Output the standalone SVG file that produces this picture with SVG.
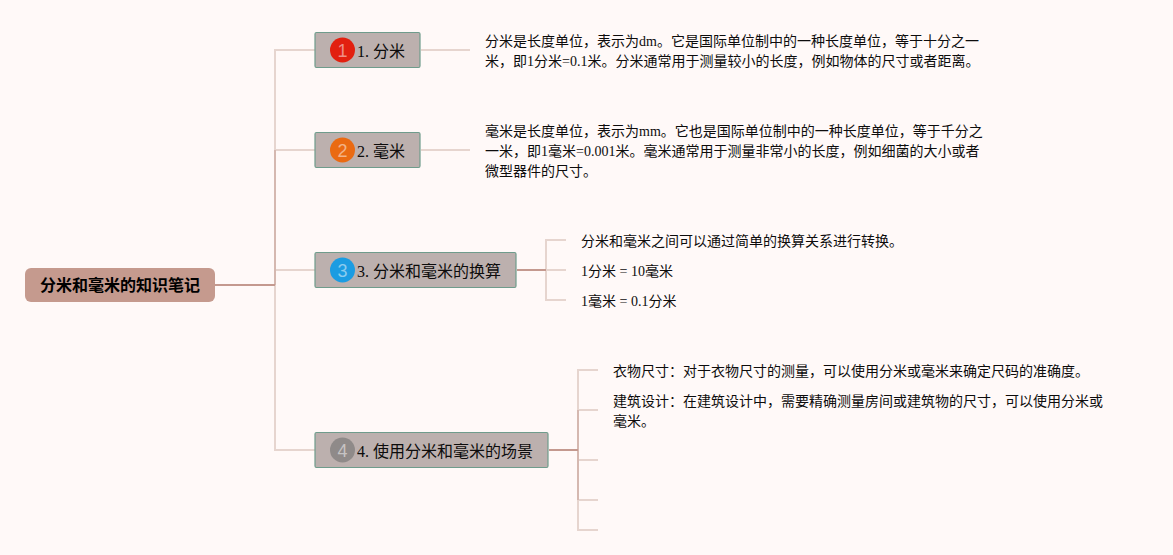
<svg xmlns="http://www.w3.org/2000/svg" width="1173" height="555" viewBox="0 0 1173 555">
<defs>
<style>
text{font-family:"Liberation Serif","Noto Sans CJK SC",serif;fill:#0d0c0c;opacity:.995}
.d{font-size:14px}
.t{font-size:16px}
.r{font-size:16px;font-weight:bold;font-family:"Liberation Sans","Noto Sans CJK SC",sans-serif;fill:#000}
.b{fill:#bcb0ae;stroke:#6f9c8c;stroke-width:1.2}
.n{font-family:"Liberation Sans",sans-serif;font-size:18px;text-anchor:middle;fill-opacity:.5;fill:#fff}
.l{fill:none;stroke:#e6d5cf;stroke-width:2}
.m{fill:none;stroke:#d5b8b0;stroke-width:2}
.k{fill:none;stroke:#c4998f;stroke-width:2}
</style>
</defs>
<rect width="1173" height="555" fill="#fff9f8"/>
<g id="connectors">
<path class="l" d="M315 50H275V150M275 150H315M275 270H315M315 450H275V285"/>
<path class="m" d="M275 150V285"/>
<path class="k" d="M215 285H275"/>
<path class="l" d="M421 50H470M421 150H470"/>
<path class="l" d="M566 240H546V300H566M546 270H566"/>
<path class="k" d="M517 270H546"/>
<path class="l" d="M598 370H578V530H598M578 410H598M578 460H598M578 500H598"/>
<path class="m" d="M578 410V500"/>
<path class="k" d="M549 450H578"/>
</g>
<g id="root"><rect x="25" y="268" width="190" height="34" rx="6" fill="#c59a8e"/><text class="r" x="40" y="291">分米和毫米的知识笔记</text></g>
<g id="topic1"><rect class="b" x="315" y="32.500" width="105" height="35" rx="1.500"/><circle cx="342.500" cy="50" r="12.500" fill="#e2200f"/><text class="n" x="342.500" y="56.500">1</text><text class="t" x="357" y="57">1. 分米</text></g>
<g id="topic2"><rect class="b" x="315" y="132.500" width="105" height="35" rx="1.500"/><circle cx="342.500" cy="150" r="12.500" fill="#ea6a12"/><text class="n" x="342.500" y="156.500">2</text><text class="t" x="357" y="157">2. 毫米</text></g>
<g id="topic3"><rect class="b" x="315" y="252.500" width="201" height="35" rx="1.500"/><circle cx="342.500" cy="270" r="12.500" fill="#1b9ce2"/><text class="n" x="342.500" y="276.500">3</text><text class="t" x="357" y="277">3. 分米和毫米的换算</text></g>
<g id="topic4"><rect class="b" x="315" y="432.500" width="233" height="35" rx="1.500"/><circle cx="342.500" cy="450" r="12.500" fill="#8f8a89"/><text class="n" x="342.500" y="456.500">4</text><text class="t" x="357" y="457">4. 使用分米和毫米的场景</text></g>
<g id="detail1"><text class="d" x="485" y="46">分米是长度单位，表示为dm。它是国际单位制中的一种长度单位，等于十分之一</text><text class="d" x="485" y="66">米，即1分米=0.1米。分米通常用于测量较小的长度，例如物体的尺寸或者距离。</text></g>
<g id="detail2"><text class="d" x="485" y="136">毫米是长度单位，表示为mm。它也是国际单位制中的一种长度单位，等于千分之</text><text class="d" x="485" y="156">一米，即1毫米=0.001米。毫米通常用于测量非常小的长度，例如细菌的大小或者</text><text class="d" x="485" y="176">微型器件的尺寸。</text></g>
<g id="detail3a"><text class="d" x="581" y="246">分米和毫米之间可以通过简单的换算关系进行转换。</text></g>
<g id="detail3b"><text class="d" x="581" y="276">1分米 = 10毫米</text></g>
<g id="detail3c"><text class="d" x="581" y="306">1毫米 = 0.1分米</text></g>
<g id="detail4a"><text class="d" x="613" y="376">衣物尺寸：对于衣物尺寸的测量，可以使用分米或毫米来确定尺码的准确度。</text></g>
<g id="detail4b"><text class="d" x="613" y="406">建筑设计：在建筑设计中，需要精确测量房间或建筑物的尺寸，可以使用分米或</text><text class="d" x="613" y="426">毫米。</text></g>
</svg>
